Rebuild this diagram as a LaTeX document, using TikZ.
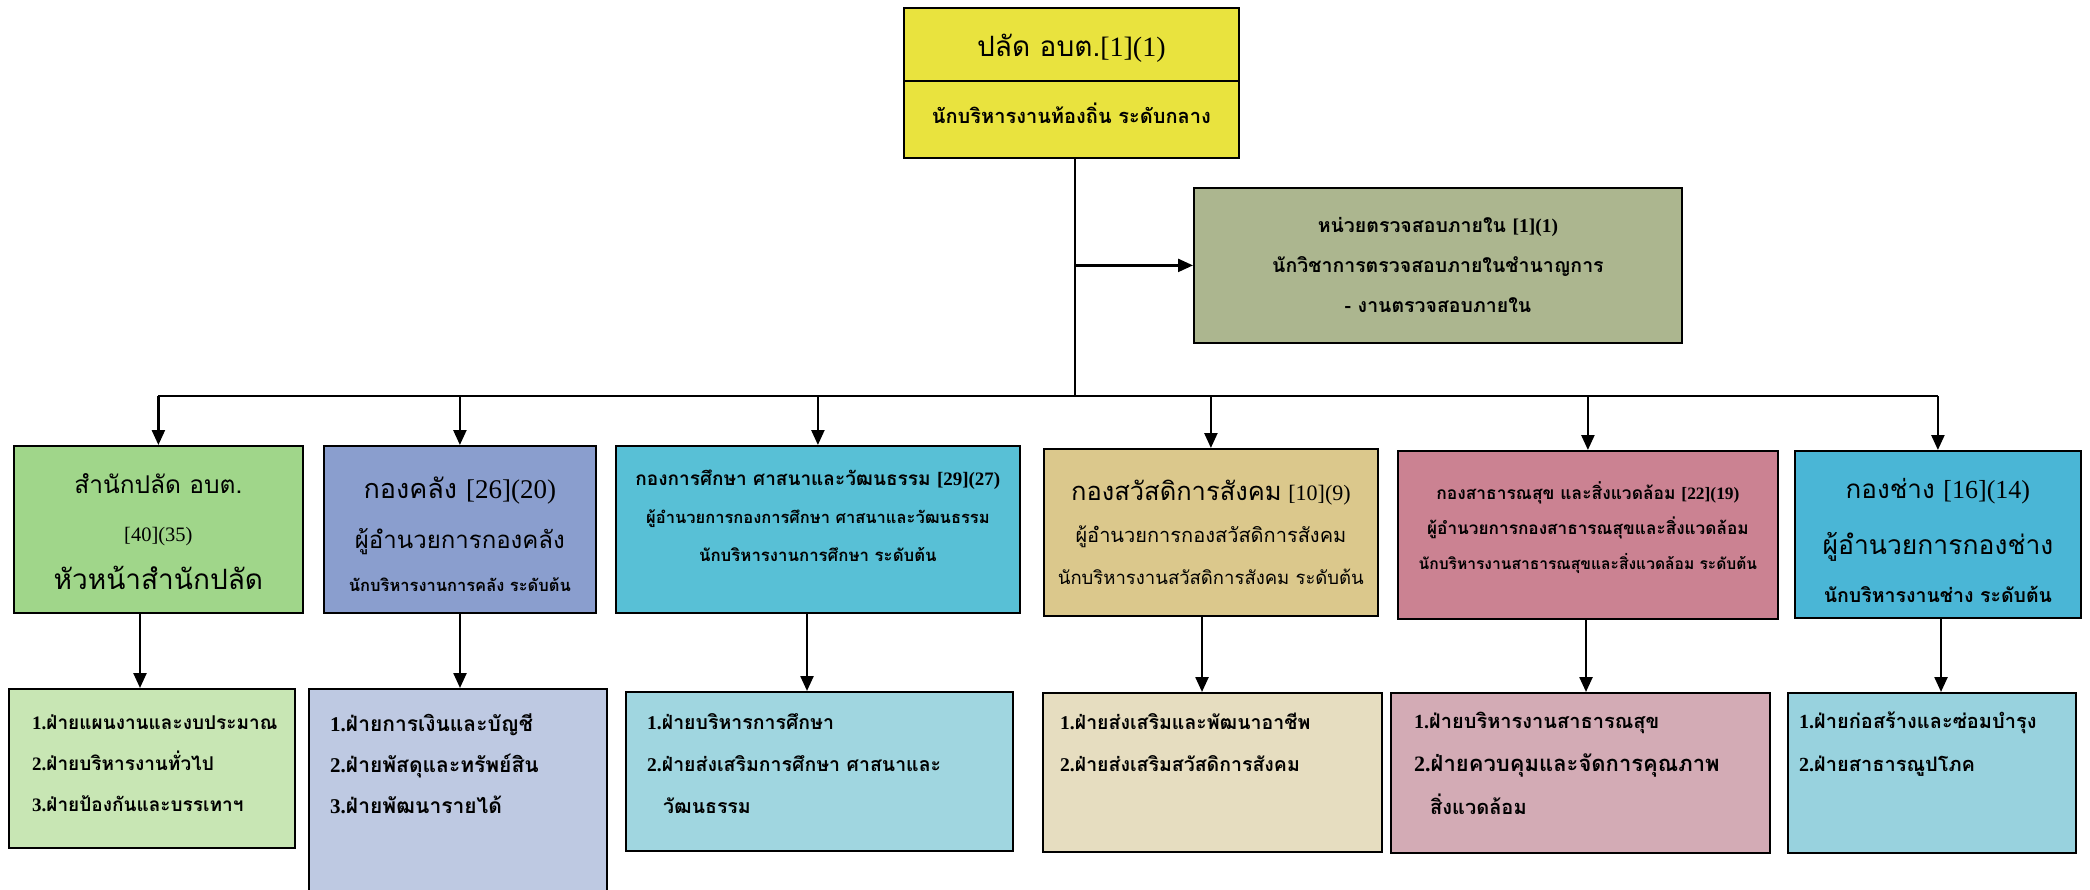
\documentclass[tikz,border=0pt]{standalone}
\usepackage{fontspec}
\setmainfont{Loma}[Script=Thai]
\newfontfamily\latinfont{Liberation Serif}
\usetikzlibrary{arrows.meta,positioning}

\definecolor{topc}{RGB}{233,227,62}
\definecolor{auditc}{RGB}{172,182,143}
\definecolor{genc}{RGB}{160,214,138}
\definecolor{finc}{RGB}{138,158,206}
\definecolor{educ}{RGB}{88,192,214}
\definecolor{socc}{RGB}{219,200,140}
\definecolor{hlthc}{RGB}{203,130,146}
\definecolor{engc}{RGB}{74,182,214}
\definecolor{gensubc}{RGB}{200,230,180}
\definecolor{finsubc}{RGB}{190,201,226}
\definecolor{edusubc}{RGB}{160,214,224}
\definecolor{socsubc}{RGB}{230,221,192}
\definecolor{hlthsubc}{RGB}{211,171,181}
\definecolor{engsubc}{RGB}{152,210,222}

\begin{document}
\begin{tikzpicture}[x=1pt,y=-1pt,>={Triangle[length=15pt,width=13pt]},
    box/.style={draw, line width=1.8pt, anchor=north west, inner sep=0pt},
    link/.style={->, line width=2.4pt},
    txt/.style={align=center, inner sep=0pt},
    txtl/.style={align=left, inner sep=0pt, font=\bfseries\fontsize{19.5}{42}\selectfont}]
  \useasboundingbox (0,0) rectangle (2090,890);
  \clip (0,0) rectangle (2090,890);

  % top level
  \node[box, fill=topc, minimum width=335pt, minimum height=150pt] (top) at (903,7) {};
  \coordinate (divl) at (903,81);
  \draw[line width=1.8pt] (divl) -- (divl -| top.east);
  \node[txt, font=\fontsize{28}{32}\selectfont, below=27pt of top.north] (toptitle) {ปลัด อบต.{\latinfont [1](1)}};
  \node[txt, font=\bfseries\fontsize{20}{24}\selectfont, below=96pt of top.north] (toprank) {นักบริหารงานท้องถิ่น ระดับกลาง};

  \node[box, fill=auditc, minimum width=488pt, minimum height=155pt] (audit) at (1193,187) {};
  \node[txt, font=\bfseries\fontsize{19.5}{40}\selectfont, below=30pt of audit.north] (audittext)
    {หน่วยตรวจสอบภายใน {\latinfont [1](1)}\\ นักวิชาการตรวจสอบภายในชำนาญการ\\ - งานตรวจสอบภายใน};

  % divisions
  \node[box, fill=genc, minimum width=289pt, minimum height=167pt] (gen) at (13,445) {};
  \node[box, fill=finc, minimum width=272pt, minimum height=167pt] (fin) at (323,445) {};
  \node[box, fill=educ, minimum width=404pt, minimum height=167pt] (edu) at (615,445) {};
  \node[box, fill=socc, minimum width=334pt, minimum height=167pt] (soc) at (1043,448) {};
  \node[box, fill=hlthc, minimum width=380pt, minimum height=168pt] (hlth) at (1397,450) {};
  \node[box, fill=engc, minimum width=286pt, minimum height=167pt] (eng) at (1794,450) {};

  \node[txt, font=\fontsize{24.5}{48}\selectfont, below=28pt of gen.north] (gentext)
    {สำนักปลัด อบต.\\ {\latinfont\fontsize{20.5}{24}\selectfont [40](35)}\\ {\fontsize{28}{32}\selectfont หัวหน้าสำนักปลัด}};
  \node[txt, font=\fontsize{24}{50}\selectfont, below=32pt of fin.north] (fintext)
    {{\fontsize{27}{30}\selectfont กองคลัง {\latinfont [26](20)}}\\ ผู้อำนวยการกองคลัง\\[-7pt] {\bfseries\fontsize{16.5}{19}\selectfont นักบริหารงานการคลัง ระดับต้น}};
  \node[txt, font=\bfseries\fontsize{16.8}{38}\selectfont, below=25pt of edu.north] (edutext)
    {{\fontsize{19}{22}\selectfont กองการศึกษา ศาสนาและวัฒนธรรม {\latinfont [29](27)}}\\ {\fontsize{16.5}{19}\selectfont ผู้อำนวยการกองการศึกษา ศาสนาและวัฒนธรรม}\\ นักบริหารงานการศึกษา ระดับต้น};
  \node[txt, font=\fontsize{20}{42}\selectfont, below=32pt of soc.north] (soctext)
    {{\fontsize{25.5}{28}\selectfont กองสวัสดิการสังคม} {\latinfont\fontsize{22}{26}\selectfont [10](9)}\\ ผู้อำนวยการกองสวัสดิการสังคม\\ {\fontsize{18.5}{22}\selectfont นักบริหารงานสวัสดิการสังคม ระดับต้น}};
  \node[txt, font=\bfseries\fontsize{17.4}{35}\selectfont, below=31pt of hlth.north] (hlthtext)
    {กองสาธารณสุข และสิ่งแวดล้อม {\latinfont [22](19)}\\ {\fontsize{17.2}{20}\selectfont ผู้อำนวยการกองสาธารณสุขและสิ่งแวดล้อม}\\ {\fontsize{15.6}{18}\selectfont นักบริหารงานสาธารณสุขและสิ่งแวดล้อม ระดับต้น}};
  \node[txt, font=\fontsize{26}{56}\selectfont, below=28pt of eng.north] (engtext)
    {กองช่าง {\latinfont [16](14)}\\ {\fontsize{26.5}{30}\selectfont ผู้อำนวยการกองช่าง}\\[-8pt] {\bfseries\fontsize{19.5}{24}\selectfont นักบริหารงานช่าง ระดับต้น}};

  % sections
  \node[box, fill=gensubc, minimum width=286pt, minimum height=159pt] (gensub) at (8,688) {};
  \node[box, fill=finsubc, minimum width=298pt, minimum height=215pt] (finsub) at (308,688) {};
  \node[box, fill=edusubc, minimum width=387pt, minimum height=159pt] (edusub) at (625,691) {};
  \node[box, fill=socsubc, minimum width=339pt, minimum height=159pt] (socsub) at (1042,692) {};
  \node[box, fill=hlthsubc, minimum width=379pt, minimum height=160pt] (hlthsub) at (1390,692) {};
  \node[box, fill=engsubc, minimum width=288pt, minimum height=160pt] (engsub) at (1787,692) {};

  \node[txtl, font=\bfseries\fontsize{19}{41}\selectfont, below right=27pt and 24pt of gensub.north west] (gensubtext)
    {{\latinfont 1.}ฝ่ายแผนงานและงบประมาณ\\ {\latinfont 2.}ฝ่ายบริหารงานทั่วไป\\ {\latinfont 3.}ฝ่ายป้องกันและบรรเทาฯ};
  \node[txtl, font=\bfseries\fontsize{21}{41}\selectfont, below right=26pt and 22pt of finsub.north west] (finsubtext)
    {{\latinfont 1.}ฝ่ายการเงินและบัญชี\\ {\latinfont 2.}ฝ่ายพัสดุและทรัพย์สิน\\ {\latinfont 3.}ฝ่ายพัฒนารายได้};
  \node[txtl, below right=22pt and 22pt of edusub.north west] (edusubtext)
    {{\latinfont 1.}ฝ่ายบริหารการศึกษา\\ {\latinfont 2.}ฝ่ายส่งเสริมการศึกษา ศาสนาและ\\ \hspace*{16pt}วัฒนธรรม};
  \node[txtl, below right=21pt and 18pt of socsub.north west] (socsubtext)
    {{\latinfont 1.}ฝ่ายส่งเสริมและพัฒนาอาชีพ\\ {\latinfont 2.}ฝ่ายส่งเสริมสวัสดิการสังคม};
  \node[txtl, font=\bfseries\fontsize{20}{43}\selectfont, below right=20pt and 24pt of hlthsub.north west] (hlthsubtext)
    {{\latinfont 1.}ฝ่ายบริหารงานสาธารณสุข\\ {\fontsize{22}{24}\selectfont{\latinfont 2.}ฝ่ายควบคุมและจัดการคุณภาพ}\\ \hspace*{16pt}สิ่งแวดล้อม};
  \node[txtl, font=\bfseries\fontsize{20}{43}\selectfont, below right=20pt and 12pt of engsub.north west] (engsubtext)
    {{\latinfont 1.}ฝ่ายก่อสร้างและซ่อมบำรุง\\ {\latinfont 2.}ฝ่ายสาธารณูปโภค};

  % connectors
  \coordinate (split) at (1075,396);
  \draw[line width=2.4pt] (top.south -| split) -- (split);
  \draw[link] (audit.west -| split) -- (audit.west);
  \draw[line width=2.4pt] (split -| gen.north) -- (split -| eng.north);
  \foreach \n in {gen,fin,edu,soc,hlth,eng}
    \draw[link] (split -| \n.north) -- (\n.north);
  \foreach \n/\x in {gen/140,fin/460,edu/807,soc/1202,hlth/1586,eng/1941}
    \draw[link] (\x,0 |- \n.south) -- (\x,0 |- \n sub.north);
\end{tikzpicture}
\end{document}
